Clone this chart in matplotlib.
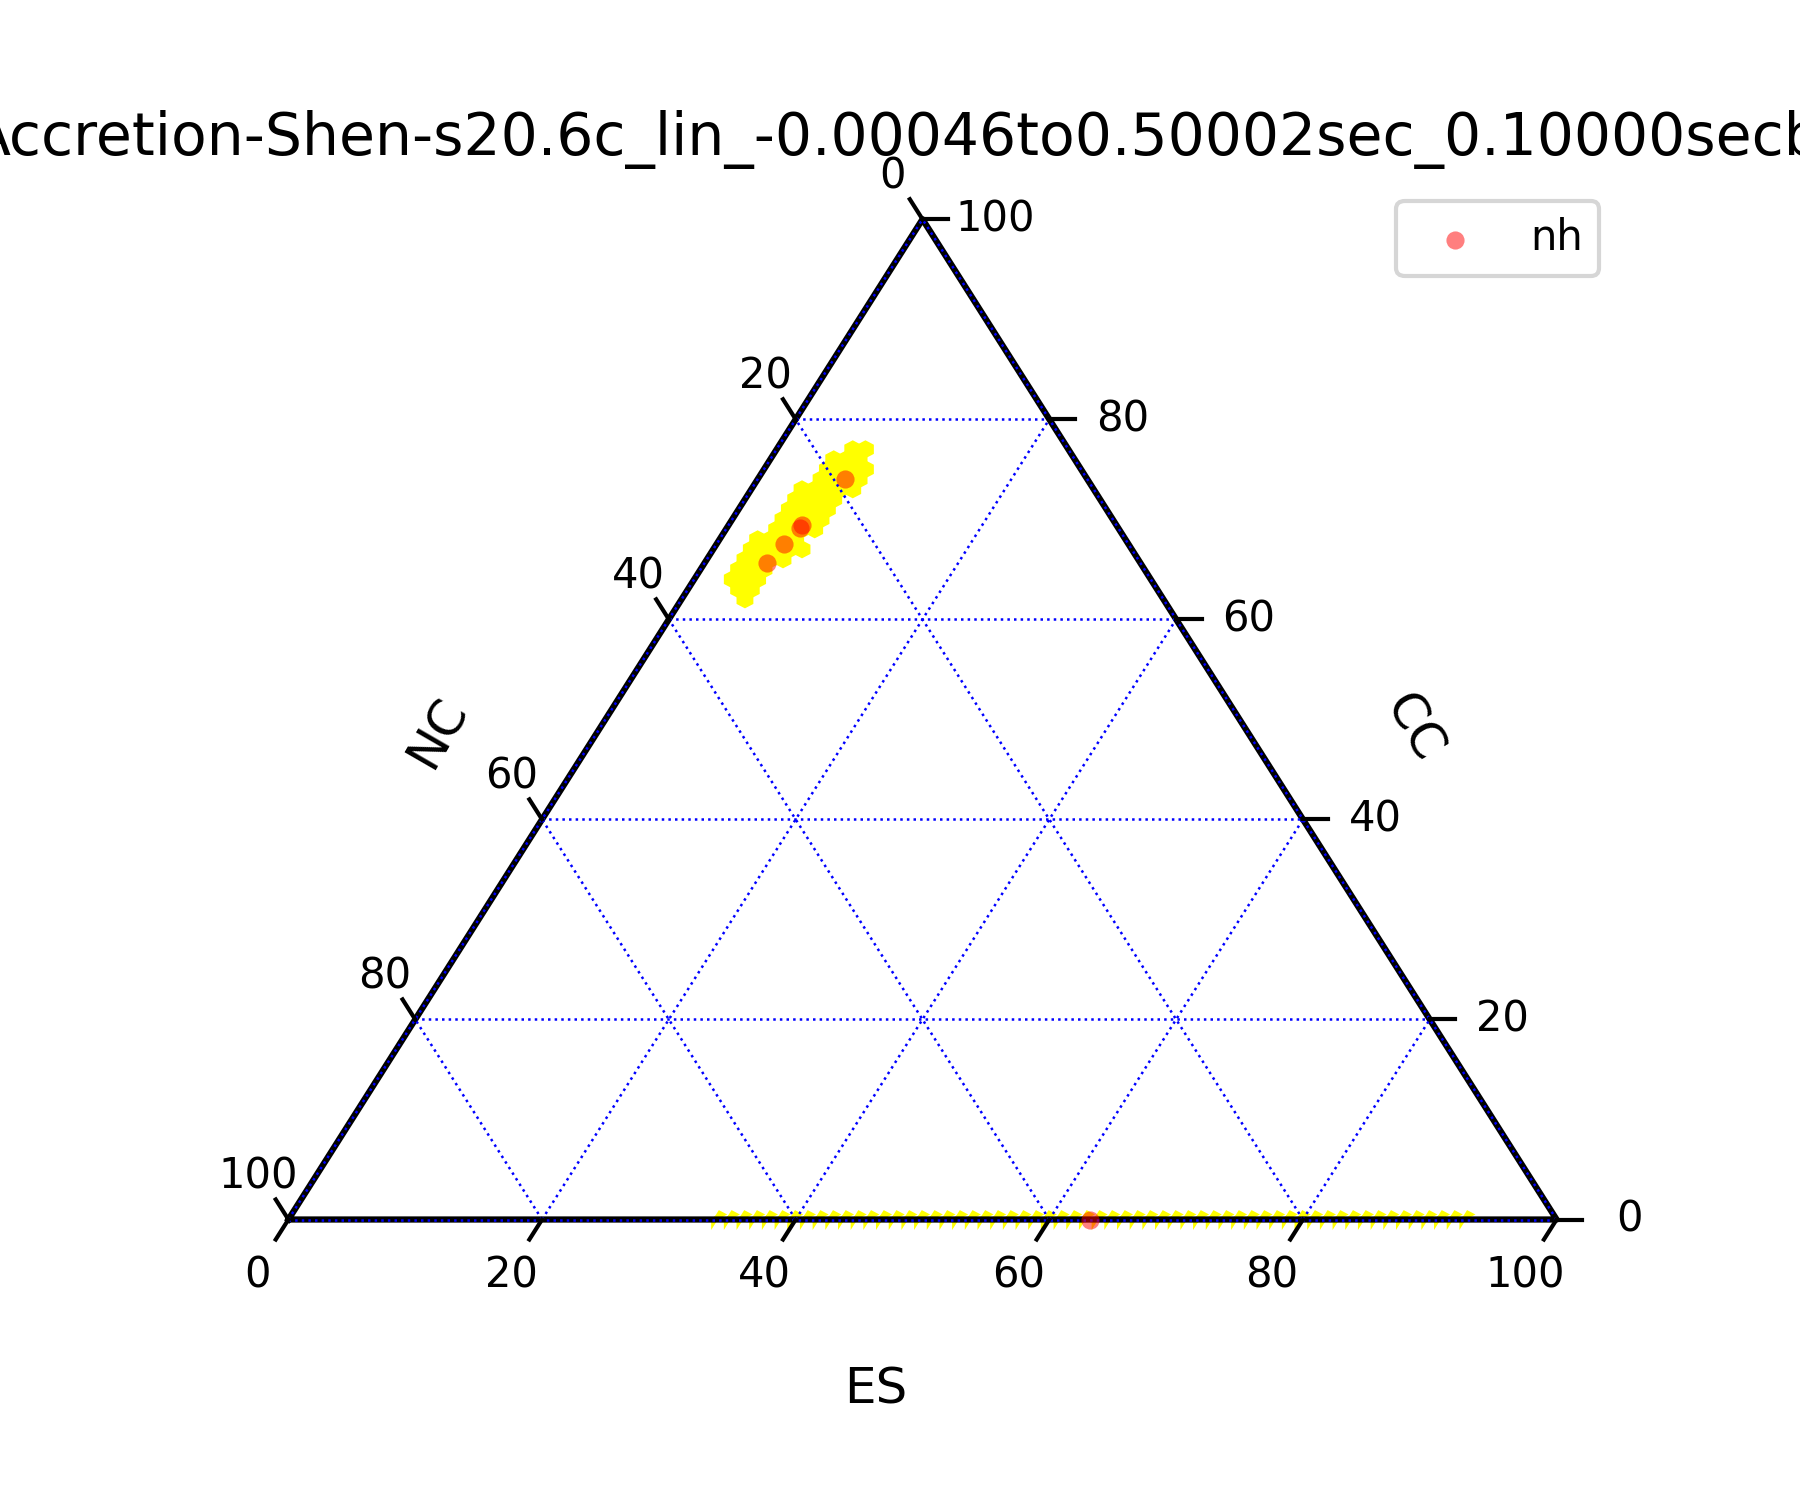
import numpy as np
import matplotlib
matplotlib.use("Agg")
import matplotlib.pyplot as plt

SQ = np.sqrt(3) / 2

title = "Accretion-Shen-s20.6c_lin_-0.00046to0.50002sec_0.10000secbin"
bottom_name, right_name, left_name = "ES", "CC", "NC"
tick_values = [0, 20, 40, 60, 80, 100]

# nh points, given as (ES, CC); NC = 100 - ES - CC
nh_es = [6.9, 5.8, 5.8, 5.3, 4.9, 63.2]
nh_cc = [74.0, 69.4, 69.1, 67.5, 65.6, 0.0]

# yellow heatmap cells on the 100-lattice: row CC=j, ES from first to last
blob_rows = [77, 76, 75, 74, 73, 72, 71, 70, 69, 68, 67, 66, 65, 64, 63, 62]
blob_first = [6, 5, 5, 5, 4, 4, 4, 4, 4, 3, 3, 3, 3, 3, 4, 5]
blob_last = [7, 7, 8, 8, 8, 7, 7, 7, 7, 6, 7, 6, 5, 5, 5, 5]
edge_first, edge_last = 34, 93  # cells on the CC=0 edge


def proj(a, b):
    a = np.asarray(a, float)
    b = np.asarray(b, float)
    return a + b / 2, b * SQ


# hexagon vertex offsets (python-ternary style)
alpha = (-1 / 3, 2 / 3)
dup = (1 / 3, 1 / 3)
ddown = (2 / 3, -1 / 3)
inner_hex = [alpha, dup, ddown, (-alpha[0], -alpha[1]), (-dup[0], -dup[1]), (-ddown[0], -ddown[1])]
edge_hex = [(-1 / 2, 0), (-1 / 3, -1 / 3), alpha, (0, 1 / 2)]

fig, ax = plt.subplots(figsize=(6, 5), dpi=300)
ax.set_xlim(-5, 105)
ax.set_ylim(-10, 90)
ax.axis("off")

cells = []
for j, f, l in zip(blob_rows, blob_first, blob_last):
    for i in range(f, l + 1):
        cells.append((i, j, inner_hex))
for i in range(edge_first, edge_last + 1):
    cells.append((i, 0, edge_hex))

for i, j, deltas in cells:
    xs, ys = proj([i + d[0] for d in deltas], [j + d[1] for d in deltas])
    ax.fill(xs, ys, facecolor="yellow", edgecolor="yellow", zorder=1)

# boundary
bx, by = proj([0, 100, 0, 0], [0, 0, 100, 0])
ax.plot(bx, by, color="black", lw=1.5, zorder=2, clip_on=False)

# gridlines
for v in tick_values:
    if v == 100:
        continue
    for a0, b0, a1, b1 in [(v, 0, v, 100 - v), (0, v, 100 - v, v), (100 - v, 0, 0, 100 - v)]:
        gx, gy = proj([a0, a1], [b0, b1])
        ax.plot(gx, gy, color="blue", ls=":", lw=0.6, zorder=3, clip_on=False)

# ticks and tick labels
for v in tick_values:
    x, y = proj(v, 0)
    ax.plot([x, x - 1], [y, y - 2 * SQ], color="black", lw=1, clip_on=False, zorder=3)
    ax.text(x - 2.44, y - 4.87, str(v), fontsize=10, ha="center", va="center")

    x, y = proj(0, 100 - v)
    ax.plot([x, x - 1], [y, y + 2 * SQ], color="black", lw=1, clip_on=False, zorder=3)
    ax.text(x - 2.4, y + 3.72, str(v), fontsize=10, ha="center", va="center")

    x, y = proj(100 - v, v)
    ax.plot([x, x + 2], [y, y], color="black", lw=1, clip_on=False, zorder=3)
    ax.text(x + 5.75, y, str(v), fontsize=10, ha="center", va="center")

# points
px, py = proj(nh_es, nh_cc)
ax.scatter(px, py, s=19, color="red", alpha=0.5, linewidths=0, label="nh", zorder=4, clip_on=False)

ax.text(46.3, -14.7, bottom_name, fontsize=12, ha="center", va="center")
ax.text(11.76, 42.2, left_name, fontsize=12, ha="center", va="center", rotation=60)
ax.text(88.7, 42.6, right_name, fontsize=12, ha="center", va="center", rotation=-60)

ax.legend(loc="upper right")
ax.set_title(title, fontsize=14)

fig.savefig("out.png", dpi=300)
